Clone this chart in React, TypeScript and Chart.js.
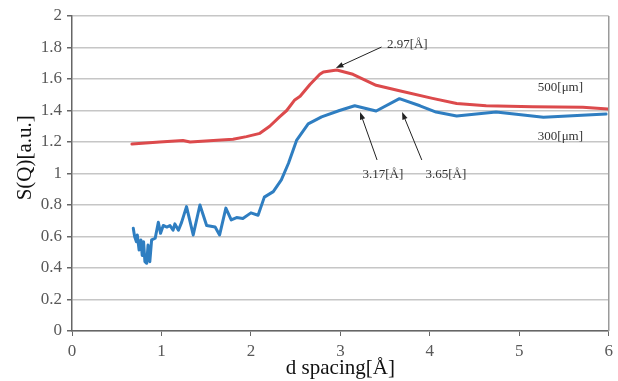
import { useEffect, useRef } from 'react';
import { Chart, registerables } from 'chart.js';

Chart.register(...registerables);

// ---- data ----
const blueX = [0.685, 0.70, 0.72, 0.73, 0.75, 0.77, 0.785, 0.80, 0.815, 0.835, 0.85, 0.87, 0.89, 0.93, 0.965, 0.99, 1.02, 1.06, 1.095, 1.13, 1.15, 1.19, 1.225, 1.28, 1.355, 1.43, 1.505, 1.60, 1.65, 1.72, 1.78, 1.84, 1.91, 2.0, 2.08, 2.15, 2.25, 2.34, 2.42, 2.51, 2.64, 2.79, 2.99, 3.16, 3.40, 3.66, 3.89, 4.07, 4.30, 4.74, 5.27, 5.97];
const blueY = [0.652, 0.60, 0.567, 0.61, 0.514, 0.578, 0.48, 0.567, 0.44, 0.43, 0.546, 0.44, 0.578, 0.589, 0.69, 0.62, 0.67, 0.66, 0.67, 0.64, 0.68, 0.64, 0.69, 0.79, 0.61, 0.80, 0.67, 0.66, 0.61, 0.78, 0.705, 0.72, 0.715, 0.75, 0.735, 0.85, 0.885, 0.96, 1.065, 1.21, 1.315, 1.36, 1.40, 1.43, 1.397, 1.475, 1.43, 1.39, 1.365, 1.39, 1.357, 1.378];

const redX = [0.67, 0.98, 1.24, 1.32, 1.58, 1.80, 1.95, 2.10, 2.21, 2.32, 2.40, 2.49, 2.55, 2.66, 2.77, 2.81, 2.96, 3.14, 3.40, 3.66, 4.03, 4.30, 4.63, 5.15, 5.71, 5.99];
const redY = [1.187, 1.20, 1.21, 1.20, 1.21, 1.217, 1.234, 1.255, 1.30, 1.36, 1.40, 1.467, 1.49, 1.565, 1.63, 1.645, 1.657, 1.63, 1.56, 1.525, 1.477, 1.445, 1.43, 1.424, 1.42, 1.41];

const xTickValues = [0, 1, 2, 3, 4, 5, 6];
const yTickLabels = ['0', '0.2', '0.4', '0.6', '0.8', '1', '1.2', '1.4', '1.6', '1.8', '2'];

const xTitle = 'd spacing[Å]';
const yTitle = 'S(Q)[a.u.]';
const yTitleCenterValue = 1.1; // vertical centre of the y title, in data units

// peak annotations (data coordinates)
const peakTexts = ['2.97[Å]', '3.17[Å]', '3.65[Å]'];
const peakTipX = [2.95, 3.22, 3.69];
const peakTipY = [1.67, 1.39, 1.39];
const peakTailX = [3.46, 3.41, 3.91];
const peakTailY = [1.803, 1.086, 1.086];
const peakLabelX = [3.52, 3.475, 4.18];
const peakLabelY = [1.816, 0.99, 0.99];

// series labels (data coordinates)
const seriesTexts = ['500[μm]', '300[μm]'];
const seriesLabelX = [5.46, 5.46];
const seriesLabelY = [1.543, 1.232];

const SERIF = "'Liberation Serif', 'Times New Roman', serif";

const toPoints = (xs: number[], ys: number[]) => xs.map((x, i) => ({ x, y: ys[i] }));

const decorPlugin = {
  id: 'decor',
  afterDatasetsDraw(chart: any) {
    const { ctx, chartArea, scales } = chart;
    const xs = scales.x;
    const ys = scales.y;
    ctx.save();
    // right border of plot
    ctx.strokeStyle = '#9a9a9a';
    ctx.lineWidth = 1.5;
    ctx.beginPath();
    ctx.moveTo(chartArea.right, chartArea.top);
    ctx.lineTo(chartArea.right, chartArea.bottom);
    ctx.stroke();

    // arrows
    ctx.strokeStyle = '#222';
    ctx.fillStyle = '#222';
    ctx.lineWidth = 1;
    for (let i = 0; i < peakTexts.length; i++) {
      const x0 = xs.getPixelForValue(peakTailX[i]);
      const y0 = ys.getPixelForValue(peakTailY[i]);
      const x1 = xs.getPixelForValue(peakTipX[i]);
      const y1 = ys.getPixelForValue(peakTipY[i]);
      const ang = Math.atan2(y1 - y0, x1 - x0);
      const head = 8;
      ctx.beginPath();
      ctx.moveTo(x0, y0);
      ctx.lineTo(x1 - Math.cos(ang) * head * 0.7, y1 - Math.sin(ang) * head * 0.7);
      ctx.stroke();
      ctx.beginPath();
      ctx.moveTo(x1, y1);
      ctx.lineTo(x1 - head * Math.cos(ang - 0.35), y1 - head * Math.sin(ang - 0.35));
      ctx.lineTo(x1 - head * Math.cos(ang + 0.35), y1 - head * Math.sin(ang + 0.35));
      ctx.closePath();
      ctx.fill();
    }

    // texts
    ctx.font = `13px ${SERIF}`;
    ctx.fillStyle = '#333';
    ctx.textBaseline = 'middle';
    for (let i = 0; i < peakTexts.length; i++) {
      ctx.textAlign = i === 0 ? 'left' : 'center';
      ctx.fillText(peakTexts[i], xs.getPixelForValue(peakLabelX[i]), ys.getPixelForValue(peakLabelY[i]));
    }
    ctx.textAlign = 'center';
    for (let i = 0; i < seriesTexts.length; i++) {
      ctx.fillText(seriesTexts[i], xs.getPixelForValue(seriesLabelX[i]), ys.getPixelForValue(seriesLabelY[i]));
    }

    // y axis title
    ctx.translate(25, ys.getPixelForValue(yTitleCenterValue));
    ctx.rotate(-Math.PI / 2);
    ctx.font = `21px ${SERIF}`;
    ctx.fillStyle = '#111';
    ctx.textAlign = 'center';
    ctx.textBaseline = 'middle';
    ctx.fillText(yTitle, 0, 0);
    ctx.restore();
  },
};

export default function App() {
  const canvasRef = useRef<HTMLCanvasElement | null>(null);

  useEffect(() => {
    document.body.style.margin = '0';
    const canvas = canvasRef.current;
    if (!canvas) return;
    const chart = new Chart(canvas, {
      type: 'line',
      data: {
        datasets: [
          {
            label: '500[μm]',
            data: toPoints(redX, redY),
            borderColor: '#dc4a4c',
            borderWidth: 3,
            borderJoinStyle: 'round',
            borderCapStyle: 'round',
            pointRadius: 0,
            tension: 0,
            fill: false,
          },
          {
            label: '300[μm]',
            data: toPoints(blueX, blueY),
            borderColor: '#2f7ec1',
            borderWidth: 3,
            borderJoinStyle: 'round',
            borderCapStyle: 'round',
            pointRadius: 0,
            tension: 0,
            fill: false,
          },
        ],
      },
      options: {
        responsive: false,
        animation: false,
        devicePixelRatio: 1,
        layout: { padding: { top: 16, right: 9, left: 0, bottom: 0 } },
        plugins: {
          legend: { display: false },
          tooltip: { enabled: false },
        },
        scales: {
          x: {
            type: 'linear',
            min: 0,
            max: 6,
            afterFit: (s: any) => { s.height = 50; },
            afterBuildTicks: (s: any) => { s.ticks = xTickValues.map((v) => ({ value: v })); },
            ticks: {
              font: { family: SERIF, size: 17 },
              color: '#595959',
              padding: 5,
              maxRotation: 0,
              callback: (v: any) => String(v),
            },
            grid: {
              drawOnChartArea: false,
              drawTicks: true,
              tickLength: 5,
              tickColor: '#666',
            },
            border: { color: '#666', width: 1.5 },
            title: {
              display: true,
              text: xTitle,
              font: { family: SERIF, size: 21 },
              color: '#111',
              padding: { top: 0, bottom: 0 },
            },
          },
          y: {
            type: 'linear',
            min: 0,
            max: 2,
            afterFit: (s: any) => { s.width = 72; },
            ticks: {
              stepSize: 0.2,
              font: { family: SERIF, size: 17 },
              color: '#595959',
              padding: 5,
              callback: (_v: any, i: number) => yTickLabels[i],
            },
            grid: {
              color: '#c6c6c6',
              lineWidth: 1.5,
              drawTicks: true,
              tickLength: 5,
              tickColor: '#666',
            },
            border: { color: '#666', width: 1.5 },
            title: { display: false },
          },
        },
      },
      plugins: [decorPlugin],
    });
    return () => chart.destroy();
  }, []);

  return (
    <div style={{ width: 618, height: 381, position: 'relative', background: '#fff' }}>
      <canvas ref={canvasRef} width={618} height={381} />
    </div>
  );
}
